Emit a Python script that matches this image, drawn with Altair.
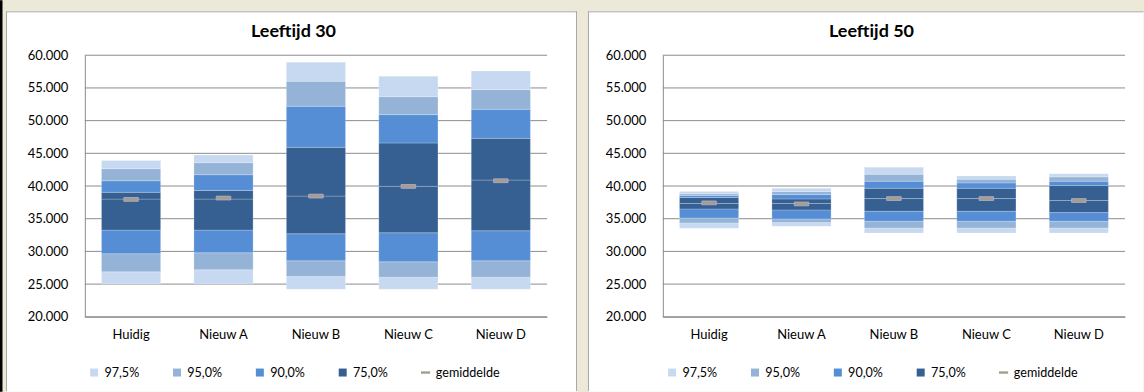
import altair as alt
import pandas as pd

categories = ["Huidig", "Nieuw A", "Nieuw B", "Nieuw C", "Nieuw D"]
bands = ["97,5%", "95,0%", "90,0%", "75,0%", "gemiddelde"]
band_colors = ["#C6D9F1", "#95B3D7", "#558ED5", "#376092", "#A59D8E"]
band_shapes = ["square", "square", "square", "square",
               "M-1.15,-0.3L1.15,-0.3L1.15,0.3L-1.15,0.3Z"]
y_ticks = [20000, 25000, 30000, 35000, 40000, 45000, 50000, 55000, 60000]
titles = ["Leeftijd 30", "Leeftijd 50"]

# Leeftijd 30 (percentiles per category)
p025_30 = [25000, 25000, 24230, 24230, 24230]
p05_30 = [26880, 27190, 26160, 26060, 26060]
p10_30 = [29640, 29790, 28560, 28410, 28560]
p25_30 = [33260, 33260, 32700, 32850, 33160]
p50_30 = [38000, 38000, 38460, 39950, 40910]
p75_30 = [39030, 39330, 45910, 46580, 47290]
p90_30 = [40810, 41730, 52190, 50920, 51730]
p95_30 = [42650, 43570, 56020, 53670, 54740]
p975_30 = [43920, 44740, 58930, 56780, 57600]
mean_30 = [37950, 38160, 38460, 39940, 40810]

# Leeftijd 50
p025_50 = [33540, 33850, 32820, 32820, 32820]
p05_50 = [34360, 34410, 33590, 33590, 33590]
p10_50 = [35120, 34970, 34610, 34610, 34610]
p25_50 = [36500, 36350, 36140, 36140, 35940]
p50_50 = [37320, 37320, 38080, 38080, 37780]
p75_50 = [38240, 38030, 39660, 39660, 40070]
p90_50 = [38540, 38690, 40740, 40480, 40740]
p95_50 = [38800, 39150, 41810, 41040, 41400]
p975_50 = [39150, 39660, 42880, 41550, 41860]
mean_50 = [37420, 37260, 38080, 38080, 37780]

FONT = "Lato"
GRID = "#8C8C8C"
BORDER = "#A8A8A8"
BG = "#ECE9D8"
W, H = 463, 262


def seg_frame(q):
    p025, p05, p10, p25, p50, p75, p90, p95, p975 = q
    pairs = [("97,5%", p025, p05), ("95,0%", p05, p10), ("90,0%", p10, p25),
             ("75,0%", p25, p50), ("75,0%", p50, p75), ("90,0%", p75, p90),
             ("95,0%", p90, p95), ("97,5%", p95, p975)]
    rows = []
    for band, lo, hi in pairs:
        for c, a, b in zip(categories, lo, hi):
            rows.append({"cat": c, "band": band, "lo": a, "hi": b})
    return pd.DataFrame(rows)


yscale = alt.Scale(domain=[20000, 60000], nice=False, zero=False)
xscale = alt.Scale(domain=categories, paddingInner=0.36, paddingOuter=0.18)
yaxis = alt.Axis(values=y_ticks, labelExpr="replace(format(datum.value, ','), ',', '.')",
                 grid=False, ticks=False, domainColor=GRID, labelPadding=17,
                 labelFont=FONT, labelFontSize=13, labelColor="black", title=None, zindex=1)
xaxis = alt.Axis(title=None, labelAngle=0, ticks=False, domainColor=GRID, labelPadding=12,
                 labelFont=FONT, labelFontSize=13, labelColor="black", grid=False, zindex=1)
legend = alt.Legend(orient="none", legendX=3, legendY=311.5, direction="horizontal",
                    columns=5, title=None, symbolSize=64, symbolStrokeWidth=0,
                    labelFont=FONT, labelFontSize=12.6, labelColor="black", labelOffset=4,
                    columnPadding=31, padding=0, zindex=1)
cscale = alt.Scale(domain=bands, range=band_colors)
sscale = alt.Scale(domain=bands, range=band_shapes)
one = pd.DataFrame({"d": [0]})


def deco_rect(color, x, x2, y, y2):
    return alt.Chart(one).mark_rect(color=color).encode(
        x=alt.value(x), x2=alt.value(x2), y=alt.value(y), y2=alt.value(y2))


def deco_rule(x, x2, y, y2):
    return alt.Chart(one).mark_rule(color=BORDER, strokeWidth=1).encode(
        x=alt.value(x), x2=alt.value(x2), y=alt.value(y), y2=alt.value(y2))


def panel(title, q, means, left):
    segs = seg_frame(q)
    mdf = pd.DataFrame({"cat": categories, "mean": means, "band": "gemiddelde"})
    gdf = pd.DataFrame({"lo": y_ticks})
    if left:
        deco = [deco_rect("#000000", -85, -82.5, -55, 337),
                deco_rect("white", -79, 493, -44, 337),
                deco_rule(-78.5, -78.5, -44, 336.5),
                deco_rule(-79, 493, -43.5, -43.5),
                deco_rule(492.5, 492.5, -44, 336.5)]
    else:
        deco = [deco_rect(BG, -75, 481.5, -55, -44),
                deco_rect("white", -75, 481.5, -44, 337),
                deco_rule(-74.5, -74.5, -44, 336.5),
                deco_rule(-75, 481.5, -43.5, -43.5)]
    grid = alt.Chart(gdf).mark_rule(color=GRID, strokeWidth=1).encode(
        y=alt.Y("lo:Q", scale=yscale, axis=yaxis))
    bars = alt.Chart(segs).mark_bar(stroke="white", strokeOpacity=0.22, strokeWidth=1).encode(
        x=alt.X("cat:N", sort=categories, scale=xscale, axis=xaxis),
        y=alt.Y("lo:Q", scale=yscale, axis=yaxis),
        y2="hi:Q",
        color=alt.Color("band:N", scale=cscale, legend=legend),
    )
    pts = alt.Chart(mdf).mark_point(filled=True, size=160, opacity=1,
                                    stroke="#B4AFCB", strokeWidth=0.8).encode(
        x=alt.X("cat:N", sort=categories, scale=xscale, axis=xaxis),
        y=alt.Y("mean:Q", scale=yscale, axis=yaxis),
        color=alt.Color("band:N", scale=cscale, legend=legend),
        shape=alt.Shape("band:N", scale=sscale, legend=legend),
    )
    ttl = alt.Chart(one).mark_text(text=title, font=FONT, fontSize=18, fontWeight="bold",
                                   align="center", baseline="alphabetic", color="black").encode(
        x=alt.value(209), y=alt.value(-18))
    return alt.layer(*deco, grid, bars, pts, ttl).properties(width=W, height=H)


left = panel(titles[0], [p025_30, p05_30, p10_30, p25_30, p50_30, p75_30, p90_30, p95_30, p975_30],
             mean_30, True)
right = panel(titles[1], [p025_50, p05_50, p10_50, p25_50, p50_50, p75_50, p90_50, p95_50, p975_50],
              mean_50, False)

chart = alt.hconcat(left, right, spacing=9).resolve_scale(
    color="independent", shape="independent", x="independent", y="independent"
).resolve_legend(color="independent", shape="independent").properties(
    background=BG, padding=0
).configure_view(stroke=None)

chart.save("out.html", embed_options={"renderer": "svg", "actions": False})
